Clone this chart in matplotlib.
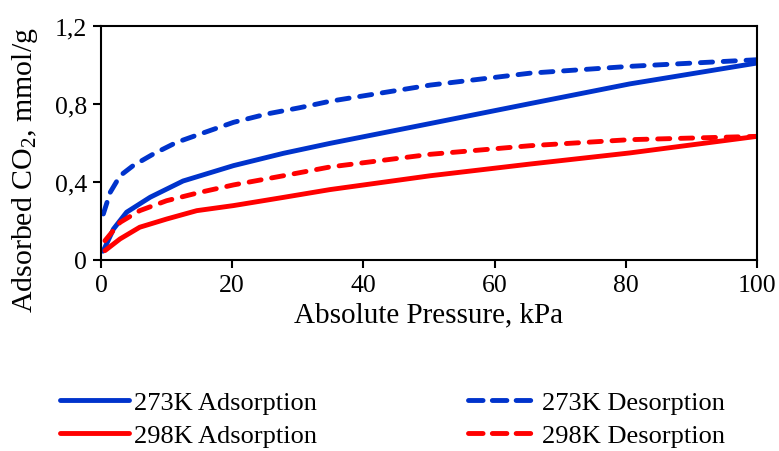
import numpy as np
import matplotlib
matplotlib.use('Agg')
import matplotlib.pyplot as plt
from matplotlib.lines import Line2D
from matplotlib.ticker import FuncFormatter

plt.rcParams['font.family'] = ['Liberation Serif', 'DejaVu Serif']
plt.rcParams['mathtext.fontset'] = 'custom'
plt.rcParams['mathtext.rm'] = 'Liberation Serif'
plt.rcParams['mathtext.it'] = 'Liberation Serif:italic'

# pressure (kPa) and uptake (mmol/g)
p_ads_273 = [0.3, 0.6, 1.9, 3.9, 7.5, 12.5, 20.2, 27.8, 34.9, 50.2, 65.4, 80.6, 100]
q_ads_273 = [0.045, 0.065, 0.159, 0.245, 0.322, 0.405, 0.484, 0.547, 0.598, 0.700, 0.802, 0.903, 1.01]

p_des_273 = [0.35, 1.4, 2.9, 4.9, 8, 11.5, 15.1, 20.2, 25.3, 30.3, 34.9, 50.2, 65.4, 80.6, 100]
q_des_273 = [0.236, 0.347, 0.432, 0.484, 0.544, 0.603, 0.646, 0.706, 0.749, 0.781, 0.814, 0.897, 0.958, 0.993, 1.027]

p_ads_298 = [0.6, 2.9, 5.9, 10, 14.6, 20.2, 27.8, 34.9, 50.2, 65.4, 80.6, 100]
q_ads_298 = [0.048, 0.108, 0.168, 0.21, 0.253, 0.279, 0.321, 0.361, 0.432, 0.492, 0.549, 0.634]

p_des_298 = [0.6, 2.9, 5.9, 10, 15.1, 20.2, 27.8, 34.9, 50.2, 65.4, 80.6, 100]
q_des_298 = [0.099, 0.193, 0.253, 0.304, 0.347, 0.385, 0.432, 0.477, 0.542, 0.586, 0.617, 0.634]

labels = ['273K Adsorption', '273K Desorption', '298K Adsorption', '298K Desorption']

blue = '#0033cc'
red = '#ff0000'

fig = plt.figure(figsize=(7.79, 4.52), dpi=100)
ax = fig.add_axes([0.1297, 0.4226, 0.8421, 0.5177])

lw = 3.5
dash = (2.5, 2.2)
ax.plot(p_ads_273, q_ads_273, color=blue, lw=lw, solid_capstyle='round', solid_joinstyle='round')
ax.plot(p_des_273, q_des_273, color=blue, lw=lw, dashes=dash, dash_capstyle='round')
ax.plot(p_ads_298, q_ads_298, color=red, lw=lw, solid_capstyle='round', solid_joinstyle='round')
ax.plot(p_des_298, q_des_298, color=red, lw=lw, dashes=dash, dash_capstyle='round')

ax.set_xlim(0, 100)
ax.set_ylim(0, 1.2)
ax.set_xticks([0, 20, 40, 60, 80, 100])
ax.set_yticks([0, 0.4, 0.8, 1.2])
ax.yaxis.set_major_formatter(FuncFormatter(lambda v, pos: ('%g' % round(v, 1)).replace('.', ',')))
ax.tick_params(direction='out', length=6, width=1.5, labelsize=18.5, pad=4)
for s in ax.spines.values():
    s.set_linewidth(1.5)

ax.set_xlabel('Absolute Pressure, kPa', fontsize=21, labelpad=4)
ax.set_ylabel('Adsorbed CO$_2$, mmol/g', fontsize=21.5)
ax.yaxis.set_label_coords(-0.093, 0.39)

# legend keys: slightly longer dashes so three fit the key
leg_dash = (3.0, 1.9)
h1 = Line2D([], [], color=blue, lw=lw, solid_capstyle='round')
h2 = Line2D([], [], color=blue, lw=lw, dashes=leg_dash, dash_capstyle='round')
h3 = Line2D([], [], color=red, lw=lw, solid_capstyle='round')
h4 = Line2D([], [], color=red, lw=lw, dashes=leg_dash, dash_capstyle='round')

fig.legend(handles=[h1, h3, h2, h4], labels=[labels[0], labels[2], labels[1], labels[3]],
           ncol=2, loc='upper left', bbox_to_anchor=(0.06, 0.162),
           frameon=False, fontsize=19, handlelength=2.6, handletextpad=0.19,
           columnspacing=5.75, labelspacing=0.36, borderpad=0)

fig.savefig('out.png', dpi=100)
